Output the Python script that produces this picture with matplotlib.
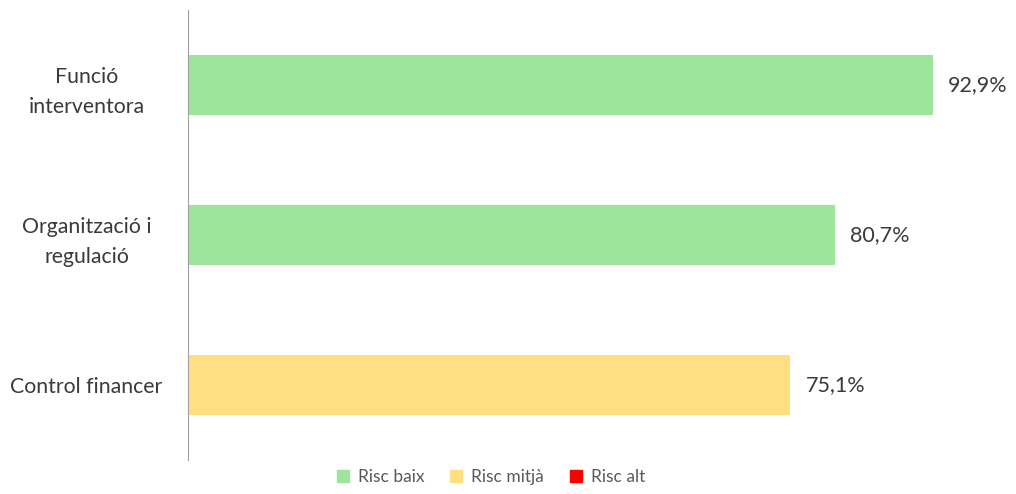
import matplotlib.pyplot as plt
from matplotlib.patches import Patch

categories = ["Funció\ninterventora", "Organització i\nregulació", "Control financer"]
values = [92.9, 80.7, 75.1]
risk = ["baix", "baix", "mitjà"]
risk_colors = {"baix": "#9de59b", "mitjà": "#ffdf80", "alt": "#ff0000"}
legend_labels = ["Risc baix", "Risc mitjà", "Risc alt"]

plt.rcParams['font.family'] = ['Lato', 'DejaVu Sans']

fig = plt.figure(figsize=(10.16, 4.94), dpi=100)
ax = fig.add_axes([188 / 1016, 34 / 494, (990 - 188) / 1016, 450 / 494])

ypos = list(range(len(categories)))
ax.barh(ypos, values, height=0.4, color=[risk_colors[r] for r in risk])
for y, v in zip(ypos, values):
    ax.text(v + 1.9, y, f"{v:.1f}%".replace(".", ","), va="center", ha="left",
            fontsize=15.5, color="#3a3a3a")

ax.set_yticks(ypos)
ax.set_yticklabels(categories, fontsize=15.3, color="#3a3a3a", ha="center",
                   linespacing=1.65)
ax.tick_params(axis="y", length=0, pad=73)
ax.set_ylim(2.5, -0.5)
ax.set_xlim(0, 100)
ax.set_xticks([])
for s in ["top", "right", "bottom"]:
    ax.spines[s].set_visible(False)
ax.spines["left"].set_color("#a0a0a0")

handles = [Patch(color=risk_colors[k]) for k in ["baix", "mitjà", "alt"]]
fig.legend(handles, legend_labels, loc="center", bbox_to_anchor=(491 / 1016, 1 - 477 / 494),
           ncol=3, frameon=False, fontsize=12.5, handlelength=0.7, handleheight=0.7,
           handletextpad=0.5, columnspacing=1.5, labelcolor="#595959")

fig.savefig("out.png", dpi=100)
